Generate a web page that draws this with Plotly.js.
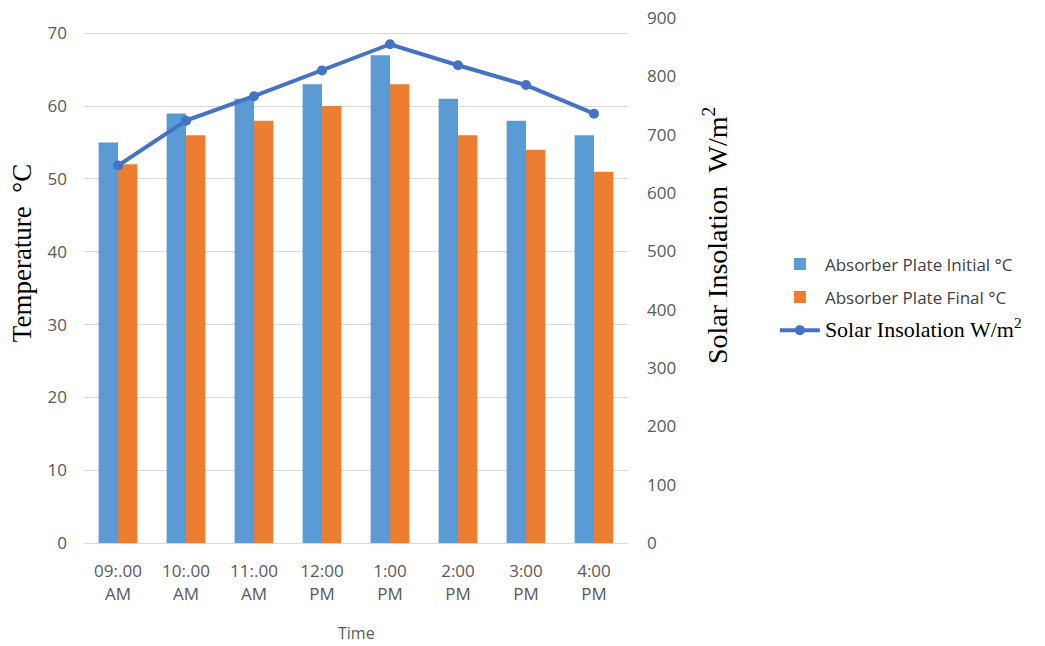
<!DOCTYPE html>
<html>
<head>
<meta charset="utf-8">
<script src="https://cdn.plot.ly/plotly-3.0.1.min.js"></script>
<style>html,body{margin:0;padding:0;background:#fff;}#chart{width:1045px;height:646px;}</style>
</head>
<body>
<div id="chart"></div>
<script>
const categories = ["09:.00<br>AM", "10:.00<br>AM", "11:.00<br>AM", "12:00<br>PM", "1:00<br>PM", "2:00<br>PM", "3:00<br>PM", "4:00<br>PM"];
const plateInitial = [55, 59, 61, 63, 67, 61, 58, 56];
const plateFinal = [52, 56, 58, 60, 63, 56, 54, 51];
const insolation = [647, 724, 766, 810, 855, 819, 785, 736];
const leftTicks = [0, 10, 20, 30, 40, 50, 60, 70];
const rightTicks = [0, 100, 200, 300, 400, 500, 600, 700, 800, 900];

const sans = "Open Sans, Noto Sans, sans-serif";
const serif = "Liberation Serif, DejaVu Serif, serif";

const traces = [
  {type: "bar", x: categories, y: plateInitial, name: "Absorber Plate Initial °C",
   marker: {color: "#5B9BD5"}, yaxis: "y", legendgroup: "a"},
  {type: "bar", x: categories, y: plateFinal, name: "Absorber Plate Final °C",
   marker: {color: "#ED7D31"}, yaxis: "y", legendgroup: "b"},
  {type: "scatter", mode: "lines+markers", x: categories, y: insolation,
   name: '<span style="font-family:Liberation Serif, serif;font-size:22px;color:#000">Solar Insolation W/m<sup>2</sup></span>',
   line: {color: "#4472C4", width: 4}, marker: {color: "#4472C4", size: 10}, yaxis: "y2", legendgroup: "c"}
];

const layout = {
  width: 1045, height: 646,
  paper_bgcolor: "#fff", plot_bgcolor: "#fff",
  margin: {l: 84, r: 417, t: 18, b: 103},
  barmode: "group", bargap: 0.43, bargroupgap: 0,
  showlegend: true,
  legend: {x: 1.27, y: 0.565, xanchor: "left", yanchor: "top",
           font: {family: sans, size: 17, color: "#404040"}, itemwidth: 40,
           tracegroupgap: 8, traceorder: "grouped"},
  xaxis: {type: "category", showgrid: false, showline: true, linecolor: "#D9D9D9", linewidth: 1,
          ticks: "", tickfont: {family: sans, size: 17, color: "#595959"}, ticklabelstandoff: 13,
          fixedrange: true},
  yaxis: {range: [0, 72.1], tickvals: leftTicks, showgrid: true, gridcolor: "#D9D9D9",
          zeroline: false, showline: false, ticks: "", ticklabelstandoff: 16,
          tickfont: {family: sans, size: 17, color: "#595959"}},
  yaxis2: {range: [0, 900], tickvals: rightTicks, overlaying: "y", side: "right",
           showgrid: false, zeroline: false, showline: false, ticks: "", ticklabelstandoff: 18,
           tickfont: {family: sans, size: 17, color: "#595959"}},
  annotations: [
    {text: "Temperature  °C", xref: "paper", yref: "paper", x: -0.114, y: 0.552,
     xanchor: "center", yanchor: "middle", textangle: -90, showarrow: false,
     font: {family: serif, size: 27, color: "#000"}},
    {text: "Solar Insolation  W/m<sup>2</sup>", xref: "paper", yref: "paper", x: 1.162, y: 0.585,
     xanchor: "center", yanchor: "middle", textangle: -90, showarrow: false,
     font: {family: serif, size: 28, color: "#000"}},
    {text: "Time", xref: "paper", yref: "paper", x: 0.5, y: -0.172,
     xanchor: "center", yanchor: "middle", showarrow: false,
     font: {family: sans, size: 16, color: "#595959"}}
  ]
};

Plotly.newPlot("chart", traces, layout, {displayModeBar: false, staticPlot: true});
</script>
</body>
</html>
